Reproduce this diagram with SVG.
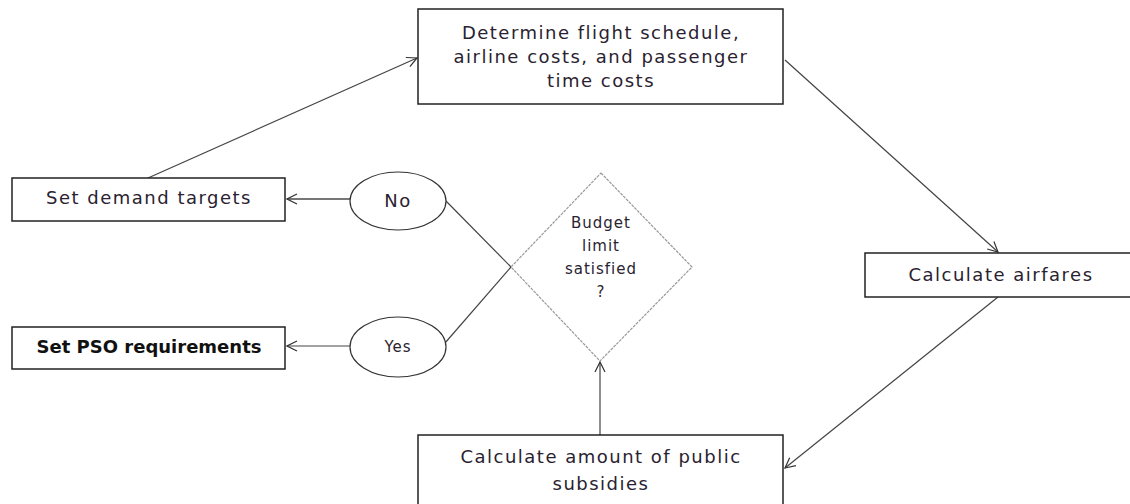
<svg xmlns="http://www.w3.org/2000/svg" width="1130" height="504" viewBox="0 0 1130 504">
  <defs>
    <marker id="arr" viewBox="0 0 12 12" refX="11" refY="6" markerWidth="12" markerHeight="12" markerUnits="userSpaceOnUse" orient="auto">
      <path d="M1,1 L11,6 L1,11" fill="none" stroke="#333" stroke-width="1.2"/>
    </marker>
    <style>
      .box { fill: #fff; stroke: #222; stroke-width: 1.5; }
      .ell { fill: #fff; stroke: #333; stroke-width: 1.2; }
      .dia { fill: #fff; stroke: #999; stroke-width: 1.2; stroke-dasharray: 3 1; }
      .t { font-family: "DejaVu Sans", Verdana, sans-serif; font-size: 18px; letter-spacing: 1.5px; fill: #2a2230; text-anchor: middle; }
      .ts { font-family: "DejaVu Sans", Verdana, sans-serif; font-size: 15px; letter-spacing: 1px; fill: #2a2230; text-anchor: middle; }
      .tb { font-family: "DejaVu Sans", Verdana, sans-serif; font-size: 18px; font-weight: bold; fill: #111; text-anchor: middle; }
      .c { fill: none; stroke: #444; stroke-width: 1.2; }
      .cg { fill: none; stroke: #777; stroke-width: 2; }
    </style>
  </defs>

  <g id="connectors">
    <line class="c" x1="148" y1="178" x2="417" y2="58" marker-end="url(#arr)"/>
    <line class="c" x1="785" y1="60" x2="998" y2="252" marker-end="url(#arr)"/>
    <line class="c" x1="998" y1="297" x2="785" y2="468" marker-end="url(#arr)"/>
    <line class="c" x1="600" y1="435" x2="600" y2="362" marker-end="url(#arr)"/>
    <line class="cg" x1="350" y1="199" x2="287" y2="199" marker-end="url(#arr)"/>
    <line class="c" x1="350" y1="346" x2="287" y2="346" marker-end="url(#arr)"/>
    <line class="c" x1="445" y1="200" x2="511" y2="267"/>
    <line class="c" x1="445" y1="343" x2="511" y2="267"/>
  </g>

  <g id="node-schedule">
    <rect class="box" x="418" y="9" width="365" height="95"/>
    <text class="t" x="601" y="39">Determine flight schedule,</text>
    <text class="t" x="601" y="63">airline costs, and passenger</text>
    <text class="t" x="601" y="87">time costs</text>
  </g>

  <g id="node-demand">
    <rect class="box" x="12" y="178" width="273" height="43"/>
    <text class="t" x="149" y="204">Set demand targets</text>
  </g>

  <g id="node-pso">
    <rect class="box" x="12" y="327" width="273" height="42"/>
    <text class="tb" x="149" y="353">Set PSO requirements</text>
  </g>

  <g id="node-no">
    <ellipse class="ell" cx="398" cy="201" rx="48" ry="29"/>
    <text class="t" x="398" y="207">No</text>
  </g>

  <g id="node-yes">
    <ellipse class="ell" cx="398" cy="347" rx="48" ry="30"/>
    <text class="ts" x="398" y="352">Yes</text>
  </g>

  <g id="node-budget">
    <polygon class="dia" points="601,173 692,267 600,361 511,267" fill-opacity="0"/>
    <text class="ts" x="601" y="228">Budget</text>
    <text class="ts" x="601" y="251">limit</text>
    <text class="ts" x="601" y="274">satisfied</text>
    <text class="ts" x="601" y="297">?</text>
  </g>

  <g id="node-airfares">
    <rect class="box" x="865" y="253" width="272" height="44"/>
    <text class="t" x="1001" y="281">Calculate airfares</text>
  </g>

  <g id="node-subsidies">
    <rect class="box" x="418" y="435" width="365" height="80"/>
    <text class="t" x="601" y="463">Calculate amount of public</text>
    <text class="t" x="601" y="490">subsidies</text>
  </g>
</svg>
